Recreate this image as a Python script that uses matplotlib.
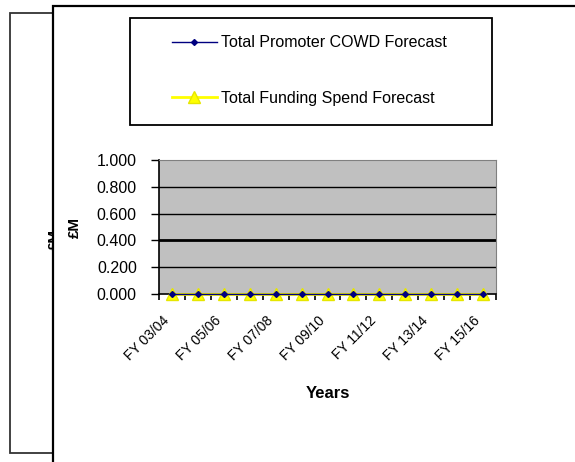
import matplotlib
matplotlib.use('Agg')
import matplotlib.pyplot as plt
from matplotlib.patches import Rectangle
import numpy as np

plt.rcParams['font.family'] = ['Liberation Sans', 'DejaVu Sans']

# data
years = ['FY 03/04', 'FY 04/05', 'FY 05/06', 'FY 06/07', 'FY 07/08', 'FY 08/09', 'FY 09/10',
         'FY 10/11', 'FY 11/12', 'FY 12/13', 'FY 13/14', 'FY 14/15', 'FY 15/16']
promoter = [0, 0, 0, 0, 0, 0, 0, 0, 0, 0, 0, 0, 0]
funding = [0, 0, 0, 0, 0, 0, 0, 0, 0, 0, 0, 0, 0]
yticks = [0.0, 0.2, 0.4, 0.6, 0.8, 1.0]

W, H = 575, 462
fig = plt.figure(figsize=(W / 100, H / 100), dpi=100)

def fx(x):
    return x / W

def fy(y):
    return 1 - y / H

# back frame (mostly hidden) and front frame
fig.patches.append(Rectangle((fx(10), fy(453)), fx(80) - fx(10), fy(13) - fy(453),
                             transform=fig.transFigure, fill=False, ec='#333333', lw=1.3, zorder=-3))
fig.text(fx(55), fy(240), '£M', rotation=90, fontsize=11, fontweight='bold',
         ha='center', va='center', zorder=-2)
fig.patches.append(Rectangle((fx(53), fy(470)), fx(590) - fx(53), fy(6) - fy(470),
                             transform=fig.transFigure, fc='white', ec='black', lw=1.6, zorder=-1))
# legend box
fig.patches.append(Rectangle((fx(130), fy(125)), fx(492) - fx(130), fy(18) - fy(125),
                             transform=fig.transFigure, fill=False, ec='black', lw=1.3, zorder=-0.5))

ax = fig.add_axes([fx(159), fy(294), fx(496) - fx(159), fy(160) - fy(294)])
ax.set_facecolor('#c0c0c0')
x = np.arange(len(years))

for v in yticks[1:-1]:
    ax.axhline(v, color='black', lw=2.0 if v == 0.4 else 1.0, zorder=1)

ax.plot(x, funding, color='#ffff00', lw=2.0, marker='^', markersize=8,
        markerfacecolor='#ffff00', markeredgecolor='#e6e600', clip_on=False, zorder=3,
        label='Total Funding Spend Forecast')
ax.plot(x, promoter, color='#000080', lw=1.0, marker='D', markersize=3,
        clip_on=False, zorder=4, label='Total Promoter COWD Forecast')

ax.set_xlim(-0.5, len(years) - 0.5)
ax.set_ylim(0, 1.0)
ax.set_yticks(yticks)
ax.set_yticklabels(['%.3f' % v for v in yticks], fontsize=11.5)
ax.tick_params(axis='y', direction='out', length=6, width=1, pad=10)

ax.set_xticks(np.arange(-0.5, len(years), 1.0))
ax.set_xticklabels([])
ax.tick_params(axis='x', which='major', direction='out', length=4, width=1.2)
ax.set_xticks(x, minor=True)
ax.set_xticklabels([y if i % 2 == 0 else '' for i, y in enumerate(years)], minor=True,
                   rotation=45, ha='right', va='top', fontsize=10)
ax.tick_params(axis='x', which='minor', length=0, pad=14)

for s in ['top', 'right']:
    ax.spines[s].set_color('#808080')
for s in ['left', 'bottom']:
    ax.spines[s].set_color('black')
    ax.spines[s].set_linewidth(1.2)

ax.set_ylabel('£M', fontsize=11, fontweight='bold')
ax.yaxis.set_label_coords((82 - 159) / 337, 0.5)
ax.set_xlabel('Years', fontsize=12, fontweight='bold', va='top')
ax.xaxis.set_label_coords(0.5, (294 - 386) / 134)

h, l = ax.get_legend_handles_labels()
leg = ax.legend(h[::-1], l[::-1], loc='center left',
                bbox_to_anchor=(fx(172), fy(70.5)), bbox_transform=fig.transFigure,
                fontsize=11.5, handlelength=2.8, handletextpad=0.25, labelspacing=2.55,
                borderpad=0, borderaxespad=0, frameon=False)

fig.savefig('out.png', dpi=100)
